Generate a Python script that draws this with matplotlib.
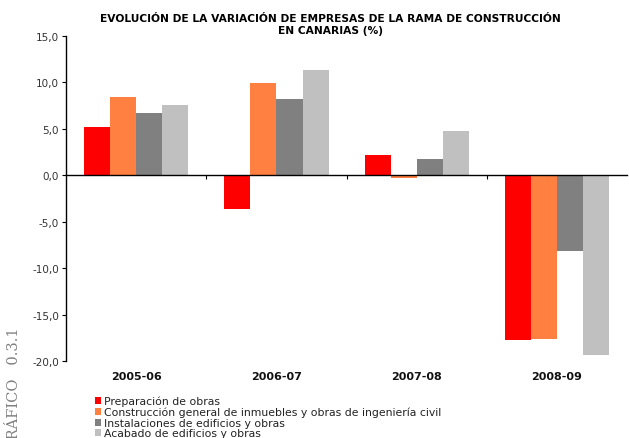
import matplotlib
matplotlib.use('Agg')
import matplotlib.pyplot as plt
import numpy as np

years = ['2005-06', '2006-07', '2007-08', '2008-09']
series = ['Preparación de obras',
          'Construcción general de inmuebles y obras de ingeniería civil',
          'Instalaciones de edificios y obras',
          'Acabado de edificios y obras']
preparacion = [5.2, -3.6, 2.2, -17.7]
construccion = [8.4, 9.9, -0.3, -17.6]
instalaciones = [6.7, 8.2, 1.8, -8.1]
acabado = [7.6, 11.3, 4.8, -19.4]
colors = ['#ff0000', '#ff8040', '#808080', '#c0c0c0']
yticks = [-20, -15, -10, -5, 0, 5, 10, 15]

fig = plt.figure(figsize=(6.29, 4.39), dpi=100)
ax = fig.add_axes([0.105, 0.1754, 0.892, 0.7403])

x = np.arange(len(years))
w = 0.186
for i, (vals, c, lab) in enumerate(zip([preparacion, construccion, instalaciones, acabado], colors, series)):
    ax.bar(x + (i - 1.5) * w, vals, w, color=c, label=lab, linewidth=0)

ax.set_xlim(-0.5, len(years) - 0.5)
ax.set_ylim(-20, 15)
ax.set_yticks(yticks)
ax.set_yticklabels([('%.1f' % v).replace('.', ',') for v in yticks], fontsize=7.5, color='#333333')
ax.tick_params(axis='y', length=3, width=0.8, pad=2)

ax.spines['top'].set_visible(False)
ax.spines['right'].set_visible(False)
ax.spines['left'].set_linewidth(1.0)
ax.spines['bottom'].set_position(('data', 0))
ax.spines['bottom'].set_linewidth(1.0)
ax.set_xticks([0.5, 1.5, 2.5])
ax.set_xticklabels([])
ax.tick_params(axis='x', direction='out', length=3, width=0.8)

for xi, yr in zip(x, years):
    ax.text(xi, -21.6, yr, ha='center', va='center', fontsize=8, fontweight='bold', color='#111111')

fig.text(0.525, 0.943, 'EVOLUCIÓN DE LA VARIACIÓN DE EMPRESAS DE LA RAMA DE CONSTRUCCIÓN\nEN CANARIAS (%)',
         ha='center', va='center', fontsize=7.7, fontweight='bold', linespacing=1.3)

fig.text(0.023, 0.253, 'GRÁFICO   0.3.1', rotation=90, ha='center', va='top',
         family='DejaVu Serif', fontsize=10.5, color='#808080')

fig.legend(loc='upper left', bbox_to_anchor=(0.151, 0.096), frameon=False, fontsize=7.8,
           handlelength=0.6, handleheight=0.6, handletextpad=0.2, labelspacing=0.05,
           borderpad=0, borderaxespad=0, labelcolor='#222222')

fig.savefig('out.png', dpi=100)
